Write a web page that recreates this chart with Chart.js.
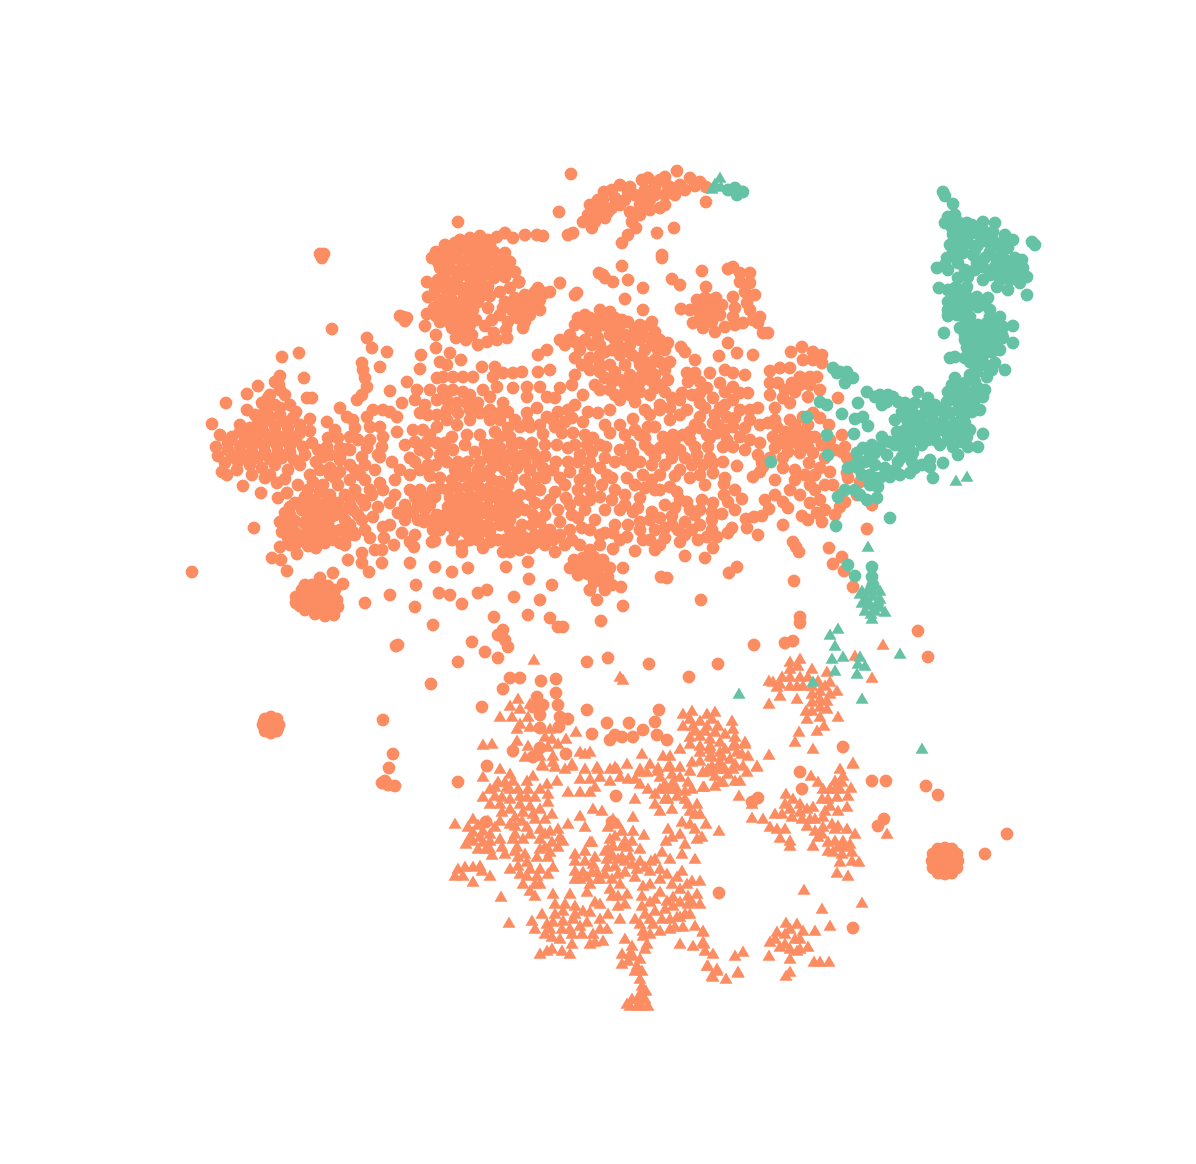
<!DOCTYPE html>
<html>
<head>
<meta charset="utf-8">
<title>Scatter</title>
<script src="https://cdn.jsdelivr.net/npm/chart.js@4/dist/chart.umd.js"></script>
<style>
  html, body { margin: 0; padding: 0; background: #fff; }
  canvas { display: block; }
</style>
</head>
<body>
<canvas id="chart" width="1196" height="1164"></canvas>
<script>
// values, one list per region
const topArm = [[571,174],[559,212],[677,171],[665,177],[690,178],[700,182],[706,202],[695,186],[680,185],[668,186],[655,183],[642,180],[630,187],[620,185],[612,190],[604,192],[598,200],[590,205],[588,215],[595,222],[605,218],[612,208],[625,200],[635,195],[645,190],[655,195],[665,195],[675,195],[685,190],[640,205],[650,210],[660,208],[630,212],[620,205],[600,208],[592,228],[583,222],[636,228],[628,235],[622,243],[632,222],[657,233],[674,228],[662,255],[662,258],[640,215],[665,205],[648,178],[706,187],[660,180],[650,200],[640,198],[628,192],[615,198],[603,200],[597,212],[608,212],[655,188],[672,188]];
const upperBlob = [[458,222],[525,235],[537,235],[543,236],[513,238],[505,233],[497,237],[568,235],[573,233],[470,238],[480,236],[488,240],[445,245],[455,243],[465,248],[476,248],[488,250],[436,252],[432,258],[445,256],[456,256],[468,258],[480,258],[492,258],[500,262],[440,268],[450,268],[462,268],[474,268],[486,268],[498,270],[508,265],[515,272],[505,277],[494,278],[482,278],[470,278],[458,278],[427,282],[438,280],[448,282],[460,288],[448,292],[434,295],[428,297],[440,300],[452,300],[464,296],[472,290],[482,292],[488,287],[500,292],[510,288],[519,282],[434,308],[445,310],[455,308],[467,306],[478,302],[436,316],[448,318],[460,316],[470,315],[452,328],[462,330],[476,320],[472,335],[478,345],[487,342],[494,333],[456,338],[466,340],[492,320],[497,340],[507,338],[525,295],[535,292],[545,293],[515,298],[505,302],[530,302],[522,305],[512,310],[500,315],[518,318],[530,315],[508,322],[523,328],[527,313],[519,282],[540,300],[488,308],[485,326],[506,330],[481,296]];
const upperBlobFill = [[438,262],[450,262],[462,262],[474,263],[486,263],[498,264],[444,274],[456,273],[468,273],[480,273],[492,274],[504,270],[435,288],[444,288],[455,289],[466,288],[478,285],[490,296],[441,304],[452,305],[462,302],[472,300],[442,312],[452,313],[463,311],[473,310],[440,322],[450,323],[460,322],[470,325],[450,250],[460,240],[470,243],[480,243],[490,245],[470,253],[482,253],[494,252],[505,253],[510,262],[458,250],[525,322],[515,312],[503,308],[533,308],[540,310],[526,298],[513,305],[536,296],[550,292],[538,288]];
const smallSpots = [[320,254],[324,254],[322,258],[332,329],[403,317],[400,316],[407,318],[405,321],[282,357],[299,353],[398,645],[396,646],[431,684],[458,662],[383,720],[393,754],[389,768],[385,781],[382,783],[395,786],[388,785],[192,572],[985,854],[1007,834]];
const bigSpotWest = [[271,725],[271,717],[277,719],[279,725],[277,731],[271,733],[265,731],[263,725],[265,719],[264,722],[278,728],[272,718]];
const bigSpotEast = [[945,861],[945,848],[952,849],[957,854],[958,861],[957,868],[952,873],[945,874],[938,873],[933,868],[932,861],[933,854],[938,849],[945,855],[951,861],[945,867],[939,861]];
const westBlob = [[212,424],[226,403],[247,394],[258,386],[280,376],[304,378],[279,385],[270,395],[285,395],[262,403],[275,405],[290,405],[307,398],[312,398],[247,410],[255,415],[268,415],[280,415],[293,418],[240,425],[250,428],[262,427],[275,427],[288,428],[300,425],[220,435],[232,437],[245,440],[257,440],[270,440],[283,440],[296,440],[310,419],[310,431],[312,443],[216,447],[228,450],[240,452],[252,452],[265,452],[278,452],[290,452],[225,463],[238,462],[250,465],[262,468],[275,465],[222,472],[227,475],[243,486],[261,493],[265,478],[277,483],[278,498],[287,493],[288,470],[300,465],[305,455],[316,462]];
const westBlobFill = [[268,408],[280,408],[258,420],[270,420],[283,421],[296,412],[252,433],[264,433],[276,434],[288,434],[300,433],[240,432],[228,443],[240,446],[252,446],[264,446],[277,446],[290,446],[303,447],[246,458],[258,458],[270,459],[282,458],[294,460],[232,457],[268,398],[280,390],[275,382],[265,410],[218,456],[237,470],[252,475],[270,475],[285,479]];
const swBlob = [[254,528],[280,547],[297,554],[272,558],[281,560],[287,571],[285,513],[295,503],[305,497],[315,500],[328,498],[338,503],[280,522],[290,515],[302,510],[314,512],[325,510],[335,515],[345,520],[282,532],[292,527],[304,523],[316,525],[328,523],[340,530],[350,525],[288,538],[300,536],[312,537],[323,536],[334,540],[296,544],[308,546],[316,548],[340,543],[355,535],[346,538],[313,482],[323,485],[330,475],[338,485],[350,480],[345,495],[355,495],[365,505],[372,495],[353,510],[362,520],[373,517],[353,532],[370,538],[383,527],[384,538],[394,545],[382,550],[362,553],[348,560],[362,563],[369,572],[382,563],[410,563],[398,513],[390,503],[402,533],[418,520],[424,522],[410,542],[414,547],[432,542],[435,541]];
const swBlobFill = [[290,507],[300,503],[310,505],[320,505],[332,505],[285,525],[295,521],[308,517],[320,518],[331,517],[342,512],[296,533],[308,530],[320,531],[331,530],[345,533],[303,541],[314,542],[325,543],[290,545],[330,495],[320,492],[308,490],[298,485],[340,460],[330,455],[350,450],[355,470],[320,470],[310,475],[335,478],[360,475],[370,490],[362,500],[378,507],[350,505],[358,515],[365,530],[345,545],[375,550],[383,490],[395,495],[405,520],[415,535],[390,525],[378,455],[370,440],[358,440],[355,428],[335,430],[338,438],[328,438],[318,450]];
const plug = [[333,573],[343,584],[320,578],[302,590],[296,597],[312,585],[305,600],[315,595],[325,592],[335,590],[300,606],[310,608],[320,605],[330,602],[337,600],[315,614],[325,616],[334,615],[322,610],[305,585],[315,588],[328,586],[305,593],[320,600],[330,595],[310,600],[318,608],[328,608],[338,607],[296,603],[305,610],[322,585]];
const scatterSouth = [[365,603],[390,595],[415,607],[416,585],[439,593],[450,595],[462,604],[478,593],[487,590],[514,597],[540,600],[529,579],[552,585],[528,615],[494,617],[433,625],[472,642],[485,652],[498,658],[503,630],[498,635],[508,647],[505,640],[550,618],[558,627],[563,627],[601,621],[587,662],[608,658],[435,567],[452,572],[468,568],[506,567],[528,562],[661,577],[667,578],[729,573],[737,567],[794,581],[701,600],[623,606],[623,568],[621,587],[800,617],[800,623],[785,643],[793,641],[754,645],[649,664],[689,677],[718,664],[793,542],[799,552],[796,547],[829,548],[833,564],[842,557],[844,571],[853,587],[867,529],[872,505],[590,590],[597,600],[605,590]];
const lowerCircles = [[537,697],[533,707],[543,705],[558,705],[540,715],[540,728],[560,717],[568,719],[559,727],[513,751],[540,748],[533,757],[566,754],[487,766],[503,689],[510,678],[520,678],[541,681],[556,679],[556,693],[482,707],[587,710],[592,734],[607,723],[659,710],[629,723],[655,722],[615,735],[622,737],[633,737],[643,730],[657,735],[667,740],[610,740],[843,747],[918,631],[928,657],[853,928],[719,893],[802,789],[800,772],[872,781],[886,781],[926,786],[938,795],[884,819],[878,826],[758,798],[752,802],[712,770],[458,782],[616,796],[486,822],[612,822]];
const westMiddle = [[340,408],[357,400],[362,395],[367,387],[365,378],[362,363],[363,370],[380,367],[387,352],[372,348],[367,338],[390,391],[402,403],[327,422],[347,417],[353,420],[367,417],[373,410],[383,410],[390,412],[397,417],[380,427],[370,427],[383,437],[397,432],[350,437],[382,447],[367,448],[327,447],[340,448],[347,449],[323,457],[340,457],[362,457],[380,457],[365,465],[330,468],[350,465],[375,470],[392,462],[340,472],[405,445],[395,480],[410,475],[365,480],[380,483],[355,490]];
const centreLeft = [[407,382],[417,390],[415,400],[420,413],[428,415],[421,355],[420,369],[436,348],[436,335],[425,326],[427,314],[450,353],[440,362],[461,360],[447,365],[437,378],[430,390],[443,377],[453,377],[463,377],[473,377],[482,367],[495,367],[493,377],[503,373],[513,373],[522,372],[443,390],[453,390],[463,392],[470,395],[483,390],[497,387],[513,388],[527,387],[540,387],[527,397],[547,397],[555,398],[490,397],[503,403],[457,403],[467,403],[447,410],[480,413],[490,410],[500,413],[508,412],[527,413],[537,408],[547,417],[558,412],[568,410],[598,413],[470,420],[457,425],[437,427],[413,430],[423,430],[508,428],[495,432],[520,427],[530,427],[555,427],[543,434],[562,433],[583,422],[573,433],[585,435],[593,438],[467,435],[480,435],[452,437],[427,442],[437,443],[492,445],[520,443],[532,443],[557,445],[568,448],[475,452],[453,450],[443,453],[427,453],[420,450],[447,462],[436,465],[458,462],[468,462],[480,462],[490,458],[502,456],[512,452],[522,456],[534,454],[545,456],[420,470],[430,476],[410,490],[420,490],[433,490],[405,505],[418,505],[430,505],[440,478],[437,515],[425,520],[505,470],[517,468],[530,470],[543,468],[556,462],[568,462],[580,455],[592,452],[605,458]];
const centreLeftFill = [[425,405],[437,400],[447,400],[437,415],[447,420],[458,413],[470,410],[478,403],[490,420],[500,420],[515,420],[528,422],[540,425],[553,420],[565,422],[572,418],[588,412],[605,425],[600,445],[587,445],[575,445],[545,445],[510,437],[500,437],[485,445],[465,445],[445,443],[430,435],[415,442],[410,458],[400,470],[415,462],[428,465],[440,455],[455,470],[465,470],[478,470],[490,470],[498,465],[512,478],[525,480],[538,478],[553,470],[565,485],[545,505],[530,495],[505,495],[516,512],[525,510],[520,532],[532,525],[540,522],[550,530],[553,540],[543,537],[535,543],[525,545],[512,545],[498,540],[490,542],[483,548],[470,540],[452,540],[442,520],[433,520],[425,510],[413,512],[405,512],[415,497],[425,497],[435,497],[440,488],[470,530],[485,531],[497,516],[505,515],[460,525],[495,452],[505,460],[515,462],[525,462],[488,453],[500,448],[512,445],[528,450],[538,462]];
const denseBlob = [[452,480],[462,476],[472,478],[482,476],[492,480],[500,482],[448,490],[458,488],[468,487],[478,486],[488,489],[497,492],[508,486],[450,498],[460,497],[470,496],[480,496],[490,498],[500,502],[510,497],[448,507],[457,506],[467,505],[477,505],[487,507],[497,510],[508,508],[450,516],[460,515],[470,514],[480,514],[490,516],[448,525],[458,524],[468,523],[478,523],[488,525],[455,533],[466,532],[476,531],[462,546],[462,552],[478,540],[490,532],[500,525],[445,515],[440,530],[433,530],[510,520],[510,530],[505,540],[515,540],[525,538],[535,535],[520,550],[510,552],[530,548],[545,545],[558,537],[503,552],[522,525],[533,515],[535,503],[518,505],[545,515],[558,510],[550,500],[566,498],[578,490],[530,485],[545,478],[560,478],[570,472],[585,472],[520,495],[540,490],[555,492],[545,530],[560,522],[572,515],[585,510],[570,530],[582,528],[595,520],[605,510],[600,497],[590,490],[615,490],[612,478],[627,478],[625,495],[635,485],[640,498],[620,510],[633,512],[615,525],[628,525],[640,522],[652,512],[600,535],[565,545],[580,545],[555,552],[590,550],[605,533],[613,533],[627,537],[613,549],[635,551],[643,540],[655,550],[660,545],[680,542],[698,540],[707,537],[717,537],[713,548],[685,556],[705,558],[650,520],[660,518],[672,516],[685,522],[695,515],[665,528],[678,530],[692,530],[655,530]];
const southPatch = [[574,560],[583,558],[594,557],[603,560],[570,568],[580,566],[590,566],[600,567],[610,568],[578,575],[588,574],[598,575],[608,577],[594,582],[604,584],[612,585],[590,590]];
const centreRight = [[575,295],[577,293],[578,318],[585,315],[600,310],[599,273],[605,278],[560,283],[519,282],[570,335],[560,340],[590,330],[605,325],[620,325],[635,330],[650,325],[660,340],[615,340],[630,345],[645,350],[600,345],[580,350],[575,358],[620,355],[610,365],[625,365],[640,365],[655,360],[665,370],[650,380],[635,385],[620,380],[605,378],[590,370],[622,266],[628,280],[643,288],[613,282],[603,275],[625,299],[643,310],[610,312],[622,320],[652,322],[668,343],[681,347],[685,352],[672,279],[680,285],[681,309],[590,318],[597,328],[610,335],[625,335],[640,340],[650,338],[658,350],[645,362],[632,355],[618,345],[605,352],[592,345],[647,375],[660,385],[640,392],[625,392],[610,390],[595,385],[575,375],[550,370],[547,350],[538,355],[538,372],[572,385],[583,395],[620,400],[635,402],[650,395],[660,410],[645,410],[610,410],[575,405],[560,388]];
const centreRightFill = [[575,325],[585,325],[595,320],[605,318],[615,318],[628,322],[640,325],[655,332],[565,345],[575,342],[585,340],[598,338],[610,328],[620,333],[632,338],[642,332],[652,345],[665,350],[670,362],[660,362],[650,368],[638,358],[627,350],[612,350],[600,355],[590,358],[582,365],[600,365],[615,372],[630,375],[642,375],[655,375],[668,380],[665,392],[655,388],[630,395],[615,395],[600,390],[612,382],[625,385],[640,382],[600,372]];
const loopCluster = [[706,287],[702,271],[697,300],[707,307],[715,307],[700,312],[710,316],[693,323],[703,328],[715,332],[725,327],[735,325],[743,323],[753,320],[758,323],[763,333],[768,333],[760,317],[755,295],[750,283],[750,273],[740,273],[733,267],[728,269],[740,282],[733,297],[735,308],[733,317],[747,303],[705,298],[716,298],[700,318],[712,322],[720,315],[750,310],[745,292],[700,305],[710,300],[702,320],[690,310],[722,305],[712,312],[705,312]];
const centreEast = [[728,343],[719,356],[737,353],[753,355],[695,360],[682,393],[687,373],[695,373],[710,373],[725,370],[733,373],[745,375],[688,382],[700,382],[720,383],[733,387],[748,393],[740,393],[713,398],[700,403],[733,400],[720,408],[740,410],[758,408],[687,410],[680,415],[700,417],[727,417],[750,420],[713,423],[733,427],[695,425],[673,435],[663,437],[683,435],[707,435],[717,433],[740,437],[727,440],[645,445],[655,427],[648,427],[633,419],[620,425],[610,433],[625,435],[606,447],[620,450],[633,453],[695,447],[708,447],[723,447],[733,447],[697,455],[710,458],[723,462],[737,466],[672,458],[655,457],[692,465],[703,465],[713,463],[652,465],[675,476],[632,465],[615,462],[607,475],[643,475],[660,475],[700,475],[713,473],[725,478],[753,477],[762,463],[760,472],[677,492],[687,502],[702,500],[713,503],[724,484],[728,502],[742,499],[732,528],[728,533],[747,528],[746,519],[754,517],[762,516],[769,509],[722,514],[712,520],[758,535],[665,440],[680,450],[640,435],[660,448],[670,420],[660,405],[672,398]];
const centreEastFill = [[580,480],[590,480],[602,485],[612,500],[625,505],[638,508],[645,488],[652,480],[660,490],[670,487],[680,500],[665,505],[675,508],[640,462],[625,460],[600,468],[590,462],[578,462],[570,505],[580,500],[590,500],[578,518],[590,530],[560,535],[572,540],[600,545],[620,540],[640,530],[650,540],[665,538],[672,525],[685,535],[700,525],[712,530],[700,510],[712,512],[690,510],[724,495],[735,490],[735,510],[675,440],[690,440],[690,432],[700,428],[715,415],[725,405],[705,408],[692,395],[707,388],[725,392],[700,393],[680,400],[670,408],[650,415],[635,430],[645,438],[630,445],[650,450],[670,450],[685,458],[665,465],[680,470],[690,478],[655,490],[705,485],[710,438],[718,425],[725,430],[735,418],[745,428],[750,440],[745,450],[760,425],[750,410]];
const eastCorner = [[791,352],[802,347],[813,352],[822,355],[803,360],[813,360],[822,363],[770,371],[780,368],[790,368],[778,383],[792,383],[800,377],[810,377],[817,377],[820,390],[808,397],[770,395],[783,398],[790,403],[838,398],[775,408],[790,420],[803,417],[813,413],[820,418],[768,423],[777,427],[792,432],[803,432],[815,437],[829,425],[842,435],[773,437],[783,443],[797,443],[808,447],[822,445],[760,443],[845,447],[842,452],[788,452],[800,453],[813,453],[758,455],[847,458],[783,458],[809,463],[830,472],[820,468],[763,467],[783,468],[847,473],[848,478],[860,482],[857,495],[833,485],[810,503],[820,500],[788,508],[783,502],[802,516],[808,520],[822,522],[817,513],[835,515],[840,507],[845,502],[783,525],[775,480],[795,480],[810,485],[770,383],[785,390],[795,392],[800,385],[810,385],[775,420],[785,432],[795,425],[808,425],[810,437],[800,440],[790,442],[785,437],[830,440],[835,450],[825,458],[815,475],[805,475],[795,470],[775,448],[770,458],[790,490],[800,495],[775,495],[765,500],[825,510],[815,490],[825,485],[840,495],[825,445]];

const orangeCircles = [...topArm, ...upperBlob, ...upperBlobFill, ...smallSpots, ...bigSpotWest, ...bigSpotEast, ...westBlob, ...westBlobFill, ...swBlob, ...swBlobFill, ...plug, ...scatterSouth, ...lowerCircles, ...westMiddle, ...centreLeft, ...centreLeftFill, ...denseBlob, ...southPatch, ...centreRight, ...centreRightFill, ...loopCluster, ...centreEast, ...centreEastFill, ...eastCorner];

const orangeTrianglesA = [[455,825],[473,820],[483,778],[498,783],[505,783],[513,782],[495,788],[507,788],[483,798],[502,798],[520,797],[527,798],[535,798],[527,782],[533,777],[547,785],[557,782],[543,767],[548,795],[548,803],[520,805],[530,807],[540,810],[502,813],[515,818],[523,813],[533,815],[552,815],[568,825],[495,828],[515,827],[527,828],[540,830],[550,832],[558,830],[473,833],[483,832],[490,835],[500,840],[513,840],[523,840],[540,840],[552,843],[563,842],[473,842],[483,843],[490,850],[502,848],[517,848],[540,850],[550,853],[575,855],[585,852],[592,843],[518,858],[527,863],[548,858],[553,868],[518,867],[458,870],[465,868],[473,868],[480,867],[455,877],[463,877],[473,883],[482,872],[490,877],[527,877],[537,877],[540,885],[530,892],[535,897],[501,898],[509,924],[553,895],[570,895],[575,872],[583,873],[593,865],[597,873],[587,878],[612,880],[587,893],[595,903],[575,907],[563,912],[563,922],[553,923],[542,915],[532,922],[535,930],[547,925],[573,920],[580,927],[570,930],[587,923],[600,920],[607,930],[593,935],[595,943],[572,945],[562,952],[547,952],[540,955],[552,938],[590,843],[613,820],[615,837],[622,832],[613,847],[622,847],[613,857],[622,858],[630,857],[607,860],[615,867],[625,873],[633,818],[633,832],[644,836],[637,870],[635,878],[651,862],[643,887],[642,897],[650,872],[662,853],[670,860],[682,855],[695,860],[660,870],[667,875],[677,878],[682,872],[692,882],[660,893],[673,898],[667,902],[688,897],[697,895],[692,903],[680,903],[673,907],[642,907],[650,903],[618,897],[627,895],[612,897],[618,907],[650,920],[643,932],[653,925],[662,920],[670,920],[677,918],[685,915],[675,928],[683,928],[695,927],[703,933],[680,945],[693,947],[647,945],[643,937],[625,940],[703,943],[705,952],[713,955],[708,967],[717,972],[713,978],[726,980],[735,957],[738,973],[632,947],[622,955],[633,957],[622,965],[637,967],[642,972],[635,972],[642,987],[632,1000],[627,1005],[645,1000],[642,1007],[648,1007],[637,1007]];
const orangeTrianglesB = [[568,793],[580,793],[590,793],[595,788],[598,770],[572,767],[617,770],[627,765],[610,782],[628,780],[640,773],[647,773],[640,785],[658,772],[673,783],[667,790],[677,790],[685,792],[670,767],[690,772],[703,788],[703,773],[715,777],[723,783],[688,805],[697,805],[695,815],[660,812],[672,810],[682,823],[706,825],[719,832],[697,840],[702,838],[668,830],[666,842],[593,810],[602,812],[585,828],[580,817],[553,763],[534,661],[518,700],[510,707],[500,718],[528,718],[517,730],[517,742],[550,730],[552,740],[566,740],[576,733],[483,746],[492,745],[528,747],[553,757],[525,758],[533,757],[572,765],[542,766],[597,768],[580,753],[590,753],[585,755],[620,678],[623,681],[769,682],[773,683],[782,678],[790,663],[798,667],[812,670],[790,687],[797,687],[803,687],[777,688],[780,697],[797,700],[769,705],[812,687],[820,692],[830,683],[837,692],[827,673],[812,703],[827,702],[812,712],[827,710],[820,718],[807,720],[838,718],[824,727],[799,733],[795,743],[817,732],[813,750],[872,679],[883,646],[855,657],[769,756],[853,765],[683,715],[692,712],[707,715],[715,713],[732,722],[683,727],[693,727],[707,727],[718,727],[733,730],[690,738],[700,737],[710,740],[720,743],[700,747],[680,750],[663,757],[670,757],[642,755],[700,753],[720,753],[735,745],[745,743],[737,753],[748,757],[720,763],[735,765],[757,767],[743,767],[712,767],[692,763],[680,768],[668,768],[615,768],[658,769],[640,770],[710,747],[733,747],[745,745],[703,773],[720,770],[733,770],[747,773],[757,768],[710,757],[720,783],[740,782],[704,788],[739,797],[752,805],[752,819],[763,820],[770,828],[775,815],[782,815],[777,830],[785,830],[780,839],[790,842],[790,847],[786,795],[793,800],[800,805],[807,810],[792,818],[800,813],[813,808],[813,847],[807,827],[815,820],[823,818],[815,832],[823,828],[832,825],[838,827],[847,830],[855,835],[828,843],[835,842],[843,842],[833,853],[842,855],[852,853],[859,863],[853,764],[811,777],[818,783],[823,790],[835,782],[843,777],[830,790],[840,790],[851,789],[828,800],[837,798],[847,808],[887,835],[837,874],[848,877],[804,891],[862,904],[822,910],[830,927],[786,924],[797,925],[803,932],[815,932],[777,933],[770,943],[780,948],[769,957],[795,940],[808,948],[797,952],[790,960],[814,963],[820,963],[829,963],[790,973],[786,977],[743,953],[738,974],[707,967],[717,970],[712,977],[703,932],[704,945]];
const orangeTrianglesFill = [[468,828],[478,826],[488,822],[470,838],[480,838],[490,842],[478,850],[492,856],[486,850],[466,845],[510,790],[518,790],[528,790],[540,790],[510,800],[500,805],[510,810],[535,820],[545,820],[522,822],[510,825],[500,822],[515,835],[530,835],[545,835],[560,838],[505,855],[515,852],[525,855],[537,858],[545,848],[558,848],[510,870],[520,875],[530,870],[540,870],[548,875],[523,885],[535,885],[490,790],[495,797],[490,805],[510,775],[575,862],[585,862],[595,858],[605,852],[580,880],[590,885],[598,880],[605,875],[592,873],[575,880],[555,905],[565,905],[575,915],[583,912],[555,915],[562,930],[572,935],[582,935],[550,930],[545,935],[560,940],[590,913],[600,930],[590,945],[603,942],[570,955],[552,950],[608,828],[618,825],[625,842],[610,840],[628,848],[608,850],[618,875],[632,865],[640,862],[625,862],[607,868],[618,860],[632,842],[640,850],[600,880],[635,800],[648,790],[655,795],[665,800],[672,775],[680,778],[688,783],[665,785],[677,797],[668,800],[685,800],[672,790],[660,790],[655,805],[692,790],[690,812],[700,815],[690,825],[680,835],[672,838],[695,830],[685,845],[655,860],[645,868],[660,880],[672,885],[650,885],[680,890],[687,885],[700,882],[700,905],[690,915],[680,918],[665,910],[655,912],[645,915],[635,920],[620,920],[608,915],[600,905],[610,890],[620,885],[625,905],[640,925],[670,930],[660,932],[650,935],[688,905],[655,900],[630,955],[628,962],[640,960],[645,950],[640,980],[640,995],[630,1007],[638,1000],[646,992],[530,705],[520,710],[512,718],[520,725],[530,728],[545,738],[558,745],[540,757],[548,748],[555,768],[565,770],[585,770],[590,780],[580,780],[600,778],[610,770],[620,778],[635,780],[650,765],[660,778],[500,770],[690,720],[700,722],[712,720],[725,735],[695,732],[705,732],[715,733],[735,738],[690,745],[710,750],[725,750],[712,758],[722,757],[700,762],[708,770],[742,755],[730,760],[725,770],[715,787],[728,775],[735,782],[840,770],[835,790],[842,783],[848,797],[822,800],[830,807],[838,812],[825,812],[810,820],[822,835],[835,830],[845,848],[828,852],[838,848],[850,845],[840,863],[852,862],[818,838],[802,820],[790,810],[785,805],[780,685],[790,678],[800,678],[808,678],[818,682],[790,670],[800,660],[812,695],[820,700],[820,708],[806,712],[830,695],[825,687],[785,935],[790,930],[800,940],[775,940],[785,945],[790,950],[800,950]];
const orangeTriangles = [...orangeTrianglesA, ...orangeTrianglesB, ...orangeTrianglesFill];

const greenArm = [[735,188],[740,192],[737,195],[743,192],[728,190],[943,192],[945,196],[953,204],[948,217],[945,223],[958,222],[967,223],[983,222],[995,223],[953,235],[963,237],[973,233],[983,230],[993,232],[1005,235],[1013,240],[1032,242],[1035,245],[957,245],[968,243],[978,245],[988,242],[998,245],[1008,248],[953,253],[963,253],[973,255],[990,252],[1002,255],[947,258],[937,268],[948,270],[958,263],[958,278],[968,277],[977,263],[983,267],[995,267],[1005,260],[1015,258],[1023,268],[1027,277],[1007,272],[997,275],[983,280],[997,287],[1008,290],[1027,295],[1017,275],[1020,283],[939,288],[960,290],[967,287],[948,302],[957,297],[967,297],[977,297],[988,298],[948,310],[958,307],[968,307],[978,307],[990,310],[960,315],[970,317],[1000,317],[1013,326],[987,323],[993,323],[1003,327],[960,328],[970,330],[982,333],[992,333],[1002,335],[944,333],[965,340],[975,340],[987,342],[997,343],[1013,343],[967,348],[977,350],[988,352],[1000,350],[970,362],[982,360],[995,363],[1005,370],[950,358],[955,357],[977,372],[987,377],[955,378],[965,383],[975,382],[985,390],[983,397],[980,410],[948,392],[960,393],[970,393],[947,402],[958,403],[968,405],[940,410],[950,413],[962,415],[933,420],[943,423],[955,423],[965,423]];
const greenArmFill = [[955,215],[952,228],[962,228],[972,225],[982,238],[992,238],[1003,242],[950,245],[962,245],[975,250],[985,258],[996,258],[1010,265],[1018,270],[1010,280],[1000,268],[990,275],[975,270],[965,270],[955,255],[945,265],[1000,280],[1022,260],[948,290],[955,288],[965,302],[975,302],[985,305],[952,297],[948,316],[957,315],[966,322],[978,325],[990,317],[1000,325],[1003,338],[995,335],[985,330],[965,335],[975,330],[970,350],[982,345],[992,352],[975,357],[985,365],[992,370],[965,358],[975,366],[970,375],[960,385],[952,385],[978,388],[965,398],[975,400],[955,398],[945,410],[958,410],[972,412],[935,405],[925,405],[920,420],[930,425],[945,415],[952,430],[940,430],[928,432],[960,430],[970,430],[910,435],[922,445],[935,440],[948,440],[962,442],[965,415],[905,430],[895,445],[880,448],[870,455],[865,462],[875,465],[885,468],[895,470],[912,462],[930,460],[888,395],[905,403],[910,410],[895,420],[915,415],[880,395],[855,465],[862,475],[870,485],[860,495],[845,490],[875,478]];
const greenBand = [[918,392],[928,398],[915,403],[925,413],[933,413],[922,427],[933,430],[947,433],[957,435],[967,437],[983,434],[913,427],[917,437],[928,440],[940,445],[953,447],[968,447],[978,447],[958,455],[943,463],[833,368],[840,372],[847,372],[853,378],[845,383],[837,373],[867,392],[875,397],[893,397],[887,402],[898,402],[882,405],[902,412],[858,403],[820,402],[827,405],[842,414],[863,417],[855,419],[868,426],[907,420],[897,432],[854,434],[827,435],[882,437],[872,445],[890,442],[900,440],[903,448],[910,443],[863,448],[857,453],[875,453],[887,455],[902,457],[913,453],[828,455],[771,462],[858,462],[898,462],[848,468],[858,468],[915,468],[922,465],[930,467],[870,475],[880,478],[890,477],[900,475],[910,473],[933,478],[878,487],[867,500],[855,490],[838,497],[877,498],[836,526],[890,518],[848,565],[855,576],[872,567],[872,577],[873,585],[807,417]];
const greenCircles = [...greenArm, ...greenArmFill, ...greenBand];

const greenTriangles = [[720,179],[715,185],[712,190],[721,188],[868,548],[956,482],[967,478],[838,630],[830,636],[835,647],[843,658],[832,660],[835,672],[860,658],[858,665],[865,667],[857,675],[862,700],[900,655],[739,695],[922,750],[813,683],[862,592],[872,590],[880,592],[867,600],[878,602],[865,612],[885,613],[872,620],[875,612],[873,597],[867,592],[872,583],[865,600],[860,595],[870,605],[880,608],[868,606],[877,606],[871,615],[880,600],[862,604]];

const orange = '#fc8d62';
const green = '#66c2a5';

function toPoints(list) {
    return list.map(p => ({ x: p[0], y: p[1] }));
}

function series(list, color, style, size, order) {
    return {
        data: toPoints(list),
        backgroundColor: color,
        borderWidth: 0,
        pointStyle: style,
        pointRadius: size,
        pointHoverRadius: size,
        order: order
    };
}

new Chart(document.getElementById('chart').getContext('2d'), {
    type: 'scatter',
    data: {
        datasets: [
            series(orangeCircles, orange, 'circle', 6.4, 4),
            series(orangeTriangles, orange, 'triangle', 7.5, 3),
            series(greenCircles, green, 'circle', 6.4, 2),
            series(greenTriangles, green, 'triangle', 7.5, 1)
        ]
    },
    options: {
        responsive: false,
        animation: false,
        layout: { autoPadding: false, padding: 0 },
        plugins: {
            legend: { display: false },
            tooltip: { enabled: false }
        },
        scales: {
            x: { type: 'linear', min: 0, max: 1196, display: false },
            y: { type: 'linear', min: 0, max: 1164, reverse: true, display: false }
        }
    }
});
</script>
</body>
</html>
